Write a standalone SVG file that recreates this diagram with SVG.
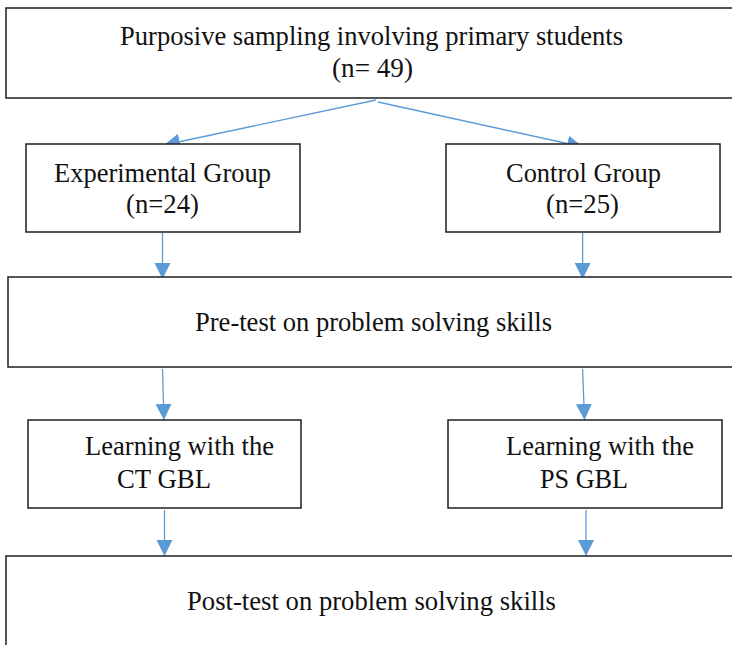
<svg xmlns="http://www.w3.org/2000/svg" width="732" height="645" viewBox="0 0 732 645">
<style>
.box{fill:#fff;stroke:#1e1e1e;stroke-width:1.5}
.t{font-family:"Liberation Serif","Times New Roman",serif;font-size:28px;fill:#111}
.c{stroke:#5b9bd5;stroke-width:1.3;fill:none;marker-end:url(#ah)}
</style>
<defs>
<marker id="ah" markerUnits="userSpaceOnUse" markerWidth="18" markerHeight="18" viewBox="0 0 18 18" refX="16" refY="8" orient="auto">
<path d="M0,0 L16,8 L0,16 Z" fill="#5b9bd5"/>
</marker>
</defs>
<rect width="732" height="645" fill="#fff"/>
<g id="connectors">
<line class="c" x1="376" y1="100" x2="164" y2="145"/>
<line class="c" x1="378" y1="102" x2="583" y2="147"/>
<line class="c" x1="162.5" y1="233" x2="162.5" y2="279"/>
<line class="c" x1="582.6" y1="233" x2="582.6" y2="279"/>
<line class="c" x1="162.5" y1="369" x2="164" y2="420"/>
<line class="c" x1="582.6" y1="369" x2="584.5" y2="420"/>
<line class="c" x1="164.5" y1="510" x2="164.5" y2="556"/>
<line class="c" x1="586" y1="510" x2="586" y2="556"/>
</g>
<g id="sampling">
<rect class="box" x="6" y="8" width="740" height="90"/>
<text class="t" x="120" y="45" textLength="503" lengthAdjust="spacingAndGlyphs">Purposive sampling involving primary students</text>
<text class="t" x="332" y="77" textLength="81" lengthAdjust="spacingAndGlyphs">(n= 49)</text>
</g>
<g id="experimental">
<rect class="box" x="26" y="144" width="274" height="88"/>
<text class="t" x="54" y="182" textLength="217" lengthAdjust="spacingAndGlyphs">Experimental Group</text>
<text class="t" x="126" y="213" textLength="73" lengthAdjust="spacingAndGlyphs">(n=24)</text>
</g>
<g id="control">
<rect class="box" x="446" y="144" width="274" height="88"/>
<text class="t" x="506" y="182" textLength="155" lengthAdjust="spacingAndGlyphs">Control Group</text>
<text class="t" x="546" y="213" textLength="73" lengthAdjust="spacingAndGlyphs">(n=25)</text>
</g>
<g id="pretest">
<rect class="box" x="8" y="277" width="740" height="90"/>
<text class="t" x="195" y="331" textLength="357" lengthAdjust="spacingAndGlyphs">Pre-test on problem solving skills</text>
</g>
<g id="learning-ct">
<rect class="box" x="28" y="420" width="273" height="88"/>
<text class="t" x="85" y="455" textLength="189" lengthAdjust="spacingAndGlyphs">Learning with the</text>
<text class="t" x="117" y="488" textLength="94" lengthAdjust="spacingAndGlyphs">CT GBL</text>
</g>
<g id="learning-ps">
<rect class="box" x="448" y="420" width="274" height="88"/>
<text class="t" x="506" y="455" textLength="188" lengthAdjust="spacingAndGlyphs">Learning with the</text>
<text class="t" x="540" y="488" textLength="88" lengthAdjust="spacingAndGlyphs">PS GBL</text>
</g>
<g id="posttest">
<rect class="box" x="6" y="556" width="740" height="100"/>
<text class="t" x="187" y="610" textLength="369" lengthAdjust="spacingAndGlyphs">Post-test on problem solving skills</text>
</g>
</svg>
